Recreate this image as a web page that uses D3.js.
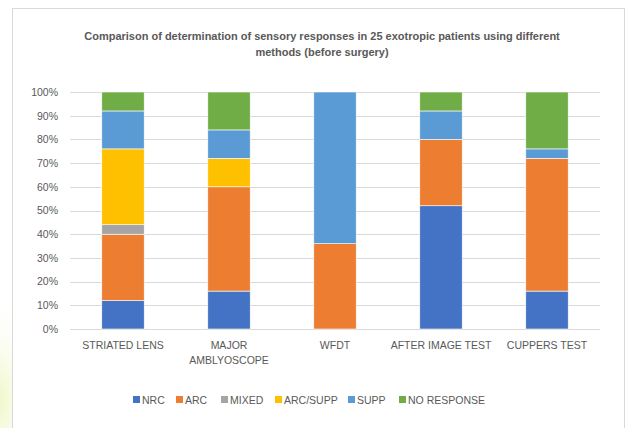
<!DOCTYPE html>
<html><head><meta charset="utf-8">
<script src="https://cdn.jsdelivr.net/npm/d3@7"></script>
<style>body{margin:0;background:#fff;}svg{display:block;font-family:"Liberation Sans",Arial,sans-serif;}</style>
</head><body>
<svg id="c" width="630" height="428"></svg>
<script>
const categories = ["STRIATED LENS", "MAJOR AMBLYOSCOPE", "WFDT", "AFTER IMAGE TEST", "CUPPERS TEST"];
const categoryLines = [["STRIATED LENS"], ["MAJOR", "AMBLYOSCOPE"], ["WFDT"], ["AFTER IMAGE TEST"], ["CUPPERS TEST"]];
const seriesNames = ["NRC", "ARC", "MIXED", "ARC/SUPP", "SUPP", "NO RESPONSE"];
const NRC = [12, 16, 0, 52, 16];
const ARC = [28, 44, 36, 28, 56];
const MIXED = [4, 0, 0, 0, 0];
const ARC_SUPP = [32, 12, 0, 0, 0];
const SUPP = [16, 12, 64, 12, 4];
const NO_RESPONSE = [8, 16, 0, 8, 24];
const yTicks = [0, 10, 20, 30, 40, 50, 60, 70, 80, 90, 100];
const colors = ["#4472C4", "#ED7D31", "#A5A5A5", "#FFC000", "#5B9BD5", "#70AD47"];
const titleLines = ["Comparison of determination of sensory responses in 25 exotropic patients using different", "methods (before surgery)"];

const seriesValues = [NRC, ARC, MIXED, ARC_SUPP, SUPP, NO_RESPONSE];
const table = categories.map((c, i) => {
  const row = {cat: c};
  seriesNames.forEach((s, j) => row[s] = seriesValues[j][i]);
  return row;
});
const stacked = d3.stack().keys(seriesNames)(table);

const svg = d3.select("#c");
const defs = svg.append("defs");
const rg = defs.append("radialGradient").attr("id", "g1");
rg.append("stop").attr("offset", "0%").attr("stop-color", "#eef7c8");
rg.append("stop").attr("offset", "100%").attr("stop-color", "#ffffff").attr("stop-opacity", 0);
svg.append("ellipse").attr("cx", 0).attr("cy", 400).attr("rx", 40).attr("ry", 110).attr("fill", "url(#g1)");

svg.append("rect").attr("x", 12.5).attr("y", 8.5).attr("width", 612).attr("height", 440)
  .attr("fill", "#fff").attr("stroke", "#d9d9d9").attr("stroke-width", 1);

const pLeft = 70, pRight = 600, pTop = 92, pBottom = 329;
const x = d3.scaleBand().domain(categories).range([pLeft, pRight]).paddingInner(0.6).paddingOuter(0.3);
const y = d3.scaleLinear().domain([0, 100]).range([pBottom, pTop]);

const title = svg.append("text").attr("text-anchor", "middle").attr("fill", "#595959")
  .attr("font-weight", "bold").attr("font-size", 11);
titleLines.forEach((t, i) => title.append("tspan").attr("x", 322).attr("y", 40 + i * 16).text(t));

svg.append("g").selectAll("line").data(yTicks).join("line")
  .attr("x1", pLeft).attr("x2", pRight)
  .attr("y1", d => Math.round(y(d)) + 0.5).attr("y2", d => Math.round(y(d)) + 0.5)
  .attr("stroke", "#d9d9d9").attr("stroke-width", 1);

const yAxis = d3.axisLeft(y).tickValues(yTicks).tickFormat(d => d + "%").tickSize(0).tickPadding(0);
const ya = svg.append("g").attr("transform", `translate(${pLeft - 12},0)`).call(yAxis);
ya.select(".domain").remove();
ya.selectAll("text").attr("fill", "#595959").attr("font-size", 10.5).attr("font-family", "Liberation Sans, Arial, sans-serif");

svg.append("g").selectAll("g").data(stacked).join("g")
  .attr("fill", (d, i) => colors[i])
  .selectAll("rect").data(d => d.filter(p => p[1] - p[0] > 0)).join("rect")
  .attr("x", d => x(d.data.cat)).attr("width", x.bandwidth())
  .attr("y", d => y(d[1])).attr("height", d => y(d[0]) - y(d[1]))
  .attr("stroke", "#fff").attr("stroke-width", 0.6);

const xAxis = d3.axisBottom(x).tickSize(0).tickFormat(() => "");
const xa = svg.append("g").attr("transform", `translate(0,${pBottom})`).call(xAxis);
xa.select(".domain").remove();
xa.selectAll(".tick").each(function(d, i) {
  const t = d3.select(this).select("text").attr("fill", "#595959").attr("font-size", 10.5)
    .attr("font-family", "Liberation Sans, Arial, sans-serif").attr("y", 0).attr("dy", 0);
  categoryLines[i].forEach((ln, k) => t.append("tspan").attr("x", 0).attr("y", 20 + k * 15).text(ln));
});

const legendX = [133, 176, 221, 275, 348, 399];
const lg = svg.append("g");
seriesNames.forEach((s, i) => {
  lg.append("rect").attr("x", legendX[i]).attr("y", 396).attr("width", 7).attr("height", 7).attr("fill", colors[i]);
  lg.append("text").attr("x", legendX[i] + 9).attr("y", 404).attr("fill", "#595959").attr("font-size", 10.5).text(s);
});
</script>
</body></html>
